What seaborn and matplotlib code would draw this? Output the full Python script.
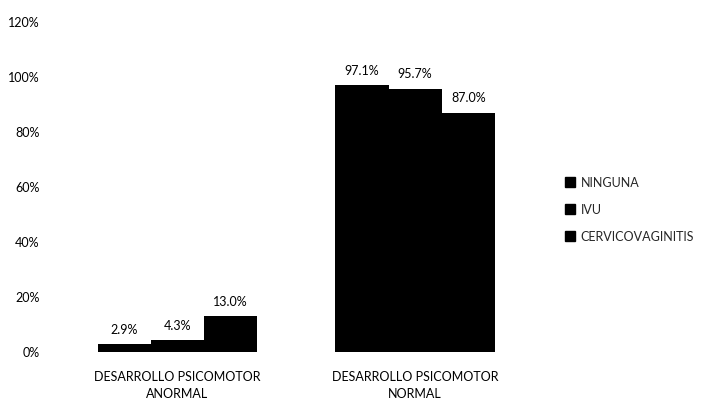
import matplotlib
matplotlib.use("Agg")
import matplotlib.pyplot as plt
import seaborn as sns
import pandas as pd
from matplotlib.patches import Patch

categories = ["DESARROLLO PSICOMOTOR\nANORMAL", "DESARROLLO PSICOMOTOR\nNORMAL"]
series = ["NINGUNA", "IVU", "CERVICOVAGINITIS"]
values = {
    "NINGUNA": [2.9, 97.1],
    "IVU": [4.3, 95.7],
    "CERVICOVAGINITIS": [13.0, 87.0],
}
yticks = [0, 20, 40, 60, 80, 100, 120]

rows = []
for s in series:
    for c, v in zip(categories, values[s]):
        rows.append({"cat": c, "serie": s, "val": v})
df = pd.DataFrame(rows)

sns.set_theme(style="white")
plt.rcParams["font.family"] = ["Lato", "DejaVu Sans"]

fig = plt.figure(figsize=(7.06, 4.11), dpi=100)
ax = fig.add_axes([0.064, 0.1436, 0.711, 0.803])

palette = {s: "black" for s in series}
sns.barplot(data=df, x="cat", y="val", hue="serie", hue_order=series, order=categories,
            palette=palette, width=0.67, gap=0, ax=ax, legend=False, saturation=1,
            edgecolor="black", linewidth=0)

for cont in ax.containers:
    ax.bar_label(cont, labels=[f"{v:.1f}%" for v in cont.datavalues], padding=6,
                 fontsize=9, color="black")

ax.set_ylim(0, 120)
ax.set_xlim(-0.555, 1.555)
ax.set_yticks(yticks)
ax.set_yticklabels([f"{t}%" for t in yticks], fontsize=9, color="black")
ax.tick_params(axis="x", labelsize=9, colors="black", length=0, pad=14)
ax.tick_params(axis="y", length=0, pad=4)
for lbl in ax.get_xticklabels():
    lbl.set_linespacing(1.5)
ax.set_xlabel("")
ax.set_ylabel("")
for sp in ax.spines.values():
    sp.set_visible(False)

handles = [Patch(facecolor="black", edgecolor="black") for _ in series]
fig.legend(handles, series, loc="center left", bbox_to_anchor=(0.785, 0.49),
           frameon=False, fontsize=9, handlelength=0.8, handleheight=0.8,
           handletextpad=0.4, labelspacing=1.2)

fig.savefig("out.png", dpi=100)
